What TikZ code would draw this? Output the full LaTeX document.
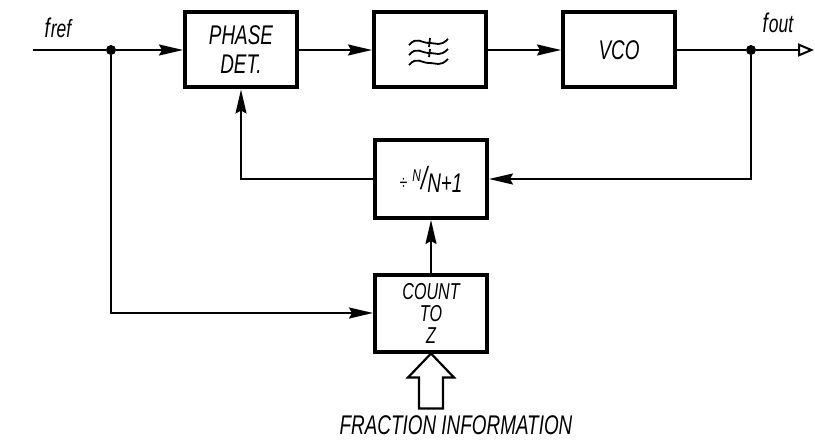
\documentclass[tikz,border=0pt]{standalone}
\usepackage{fontspec}
\newfontfamily\hand{Liberation Sans}[FakeStretch=0.7]
\usetikzlibrary{arrows.meta}

\begin{document}
\begin{tikzpicture}[x=1pt,y=-1pt,
    box/.style={draw,line width=4pt,rectangle,minimum width=112pt,minimum height=75pt,
      font=\hand\itshape\fontsize{27}{29}\selectfont,align=center,inner sep=0pt},
    conn/.style={line width=2pt},
    arr/.style={conn,-{Stealth[length=24pt,width=11pt,inset=3pt]}},
    dot/.style={circle,fill,inner sep=0pt,minimum size=10pt},
    lbl/.style={font=\hand\itshape\fontsize{27}{27}\selectfont,inner sep=0pt}]
  \useasboundingbox (0,0) rectangle (815,444);
  % blocks
  \node[box] (pd) at (241,50) {PHASE\\DET.};
  \node[box] (flt) at (430,50) {};
  \node[box] (vco) at (619,50) {VCO};
  \node[box,minimum height=78pt] (div) at (431,179) {{\fontsize{20}{20}\selectfont ÷}\ \raisebox{8pt}{\fontsize{17}{17}\selectfont N}{\fontsize{32}{32}\selectfont /}\raisebox{-3pt}{N+1}};
  \node[box,minimum height=77pt,font=\hand\itshape\fontsize{23}{22}\selectfont] (cnt) at (431,313) {COUNT\\TO\\Z};
  % filter symbol
  \foreach \dy in {-7,3,13}
    \draw[line width=1.8pt] ([shift={(-21,\dy+2)}]flt.center) .. controls +(8,-9) and +(-8,0) .. ([shift={(-1,\dy)}]flt.center)
      .. controls +(8,0) and +(-8,8) .. ([shift={(18,\dy-4)}]flt.center);
  \draw[line width=1.8pt] ([shift={(0,-12)}]flt.center) -- ([shift={(-1,-3)}]flt.center);
  \draw[line width=1.8pt] ([shift={(0,-1)}]flt.center) -- ([shift={(-1,7)}]flt.center);
  % junctions and ends
  \coordinate (in) at (33,50);
  \node[dot] (j1) at (111,50) {};
  \node[dot] (j2) at (751,50) {};
  \coordinate (out) at (814,50);
  \node[lbl] (fref) at (58,28) {f\kern1pt{\fontsize{25}{25}\selectfont ref}};
  \node[lbl] (fout) at (778,23) {f\kern1pt{\fontsize{25}{25}\selectfont out}};
  % connections
  \draw[conn] (in) -- (j1);
  \draw[arr] (j1) -- (pd);
  \draw[arr] (pd) -- (flt);
  \draw[arr] (flt) -- (vco);
  \draw[conn] (vco) -- (j2);
  \draw[conn,-{Triangle[open,length=16pt,width=13pt,line width=2pt]}] (j2) -- (out);
  \draw[arr] (j2) |- (div);
  \draw[arr] (div) -| (pd);
  \draw[arr] (j1) |- (cnt);
  \draw[arr] (cnt) -- (div);
  % fraction input
  \draw[line width=2.2pt,line join=miter] (cnt.south) -- ++(23,24) -- ++(-11,0) -- ++(0,31) -- ++(-24,0)
    -- ++(0,-31) -- ++(-11,0) -- cycle;
  \node[lbl] (frac) at (456,425) {FRACTION INFORMATION};
\end{tikzpicture}
\end{document}
